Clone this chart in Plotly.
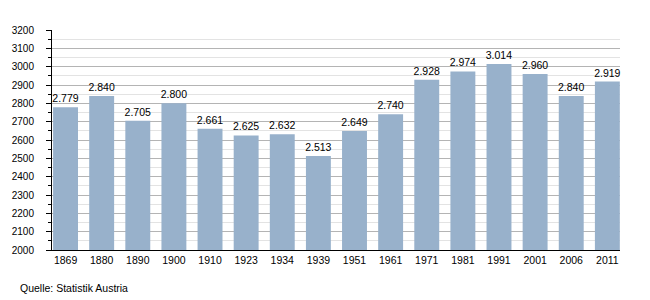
import plotly.graph_objects as go

years = ["1869", "1880", "1890", "1900", "1910", "1923", "1934", "1939",
         "1951", "1961", "1971", "1981", "1991", "2001", "2006", "2011"]
population = [2779, 2840, 2705, 2800, 2661, 2625, 2632, 2513,
              2649, 2740, 2928, 2974, 3014, 2960, 2840, 2919]
labels = [f"{v:,}".replace(",", ".") for v in population]
source = "Quelle: Statistik Austria"

font = "Liberation Sans, Arial, sans-serif"

fig = go.Figure(go.Bar(
    x=list(range(len(years))), y=population,
    marker=dict(color="#98b1cb", line=dict(width=0)),
    text=labels, textposition="outside", cliponaxis=False,
    constraintext="none",
    textfont=dict(family=font, size=10.5, color="#000000"),
    hoverinfo="skip",
))

fig.update_layout(
    width=650, height=300,
    margin=dict(l=50, r=30, t=30, b=50),
    paper_bgcolor="white", plot_bgcolor="white",
    bargap=0.31, showlegend=False,
    font=dict(family=font, size=10, color="#000000"),
    xaxis=dict(
        tickmode="array", tickvals=list(range(len(years))), ticktext=years,
        range=[-0.375, 15.35], showgrid=False, zeroline=False,
        showline=True, linecolor="#000000", linewidth=1,
        ticks="", tickfont=dict(size=10.5, family=font),
        ticklabelstandoff=0,
    ),
    yaxis=dict(
        range=[2000, 3200], dtick=100, tick0=2000,
        showgrid=True, gridcolor="#b4b4b4", gridwidth=1,
        zeroline=False, showline=True, linecolor="#000000", linewidth=1,
        ticks="outside", ticklen=5, tickcolor="#000000",
        tickformat="d", tickfont=dict(size=10, family=font),
        ticklabelstandoff=10,
        minor=dict(dtick=50, tick0=2000, showgrid=True, gridcolor="#e3e3e3",
                   ticks="outside", ticklen=3, tickcolor="#000000"),
    ),
    annotations=[dict(
        text=source, xref="paper", yref="paper", x=-0.06, y=-0.173,
        xanchor="left", yanchor="middle", showarrow=False,
        font=dict(family=font, size=10.5, color="#000000"),
    )],
)

fig.write_html("out.html")
